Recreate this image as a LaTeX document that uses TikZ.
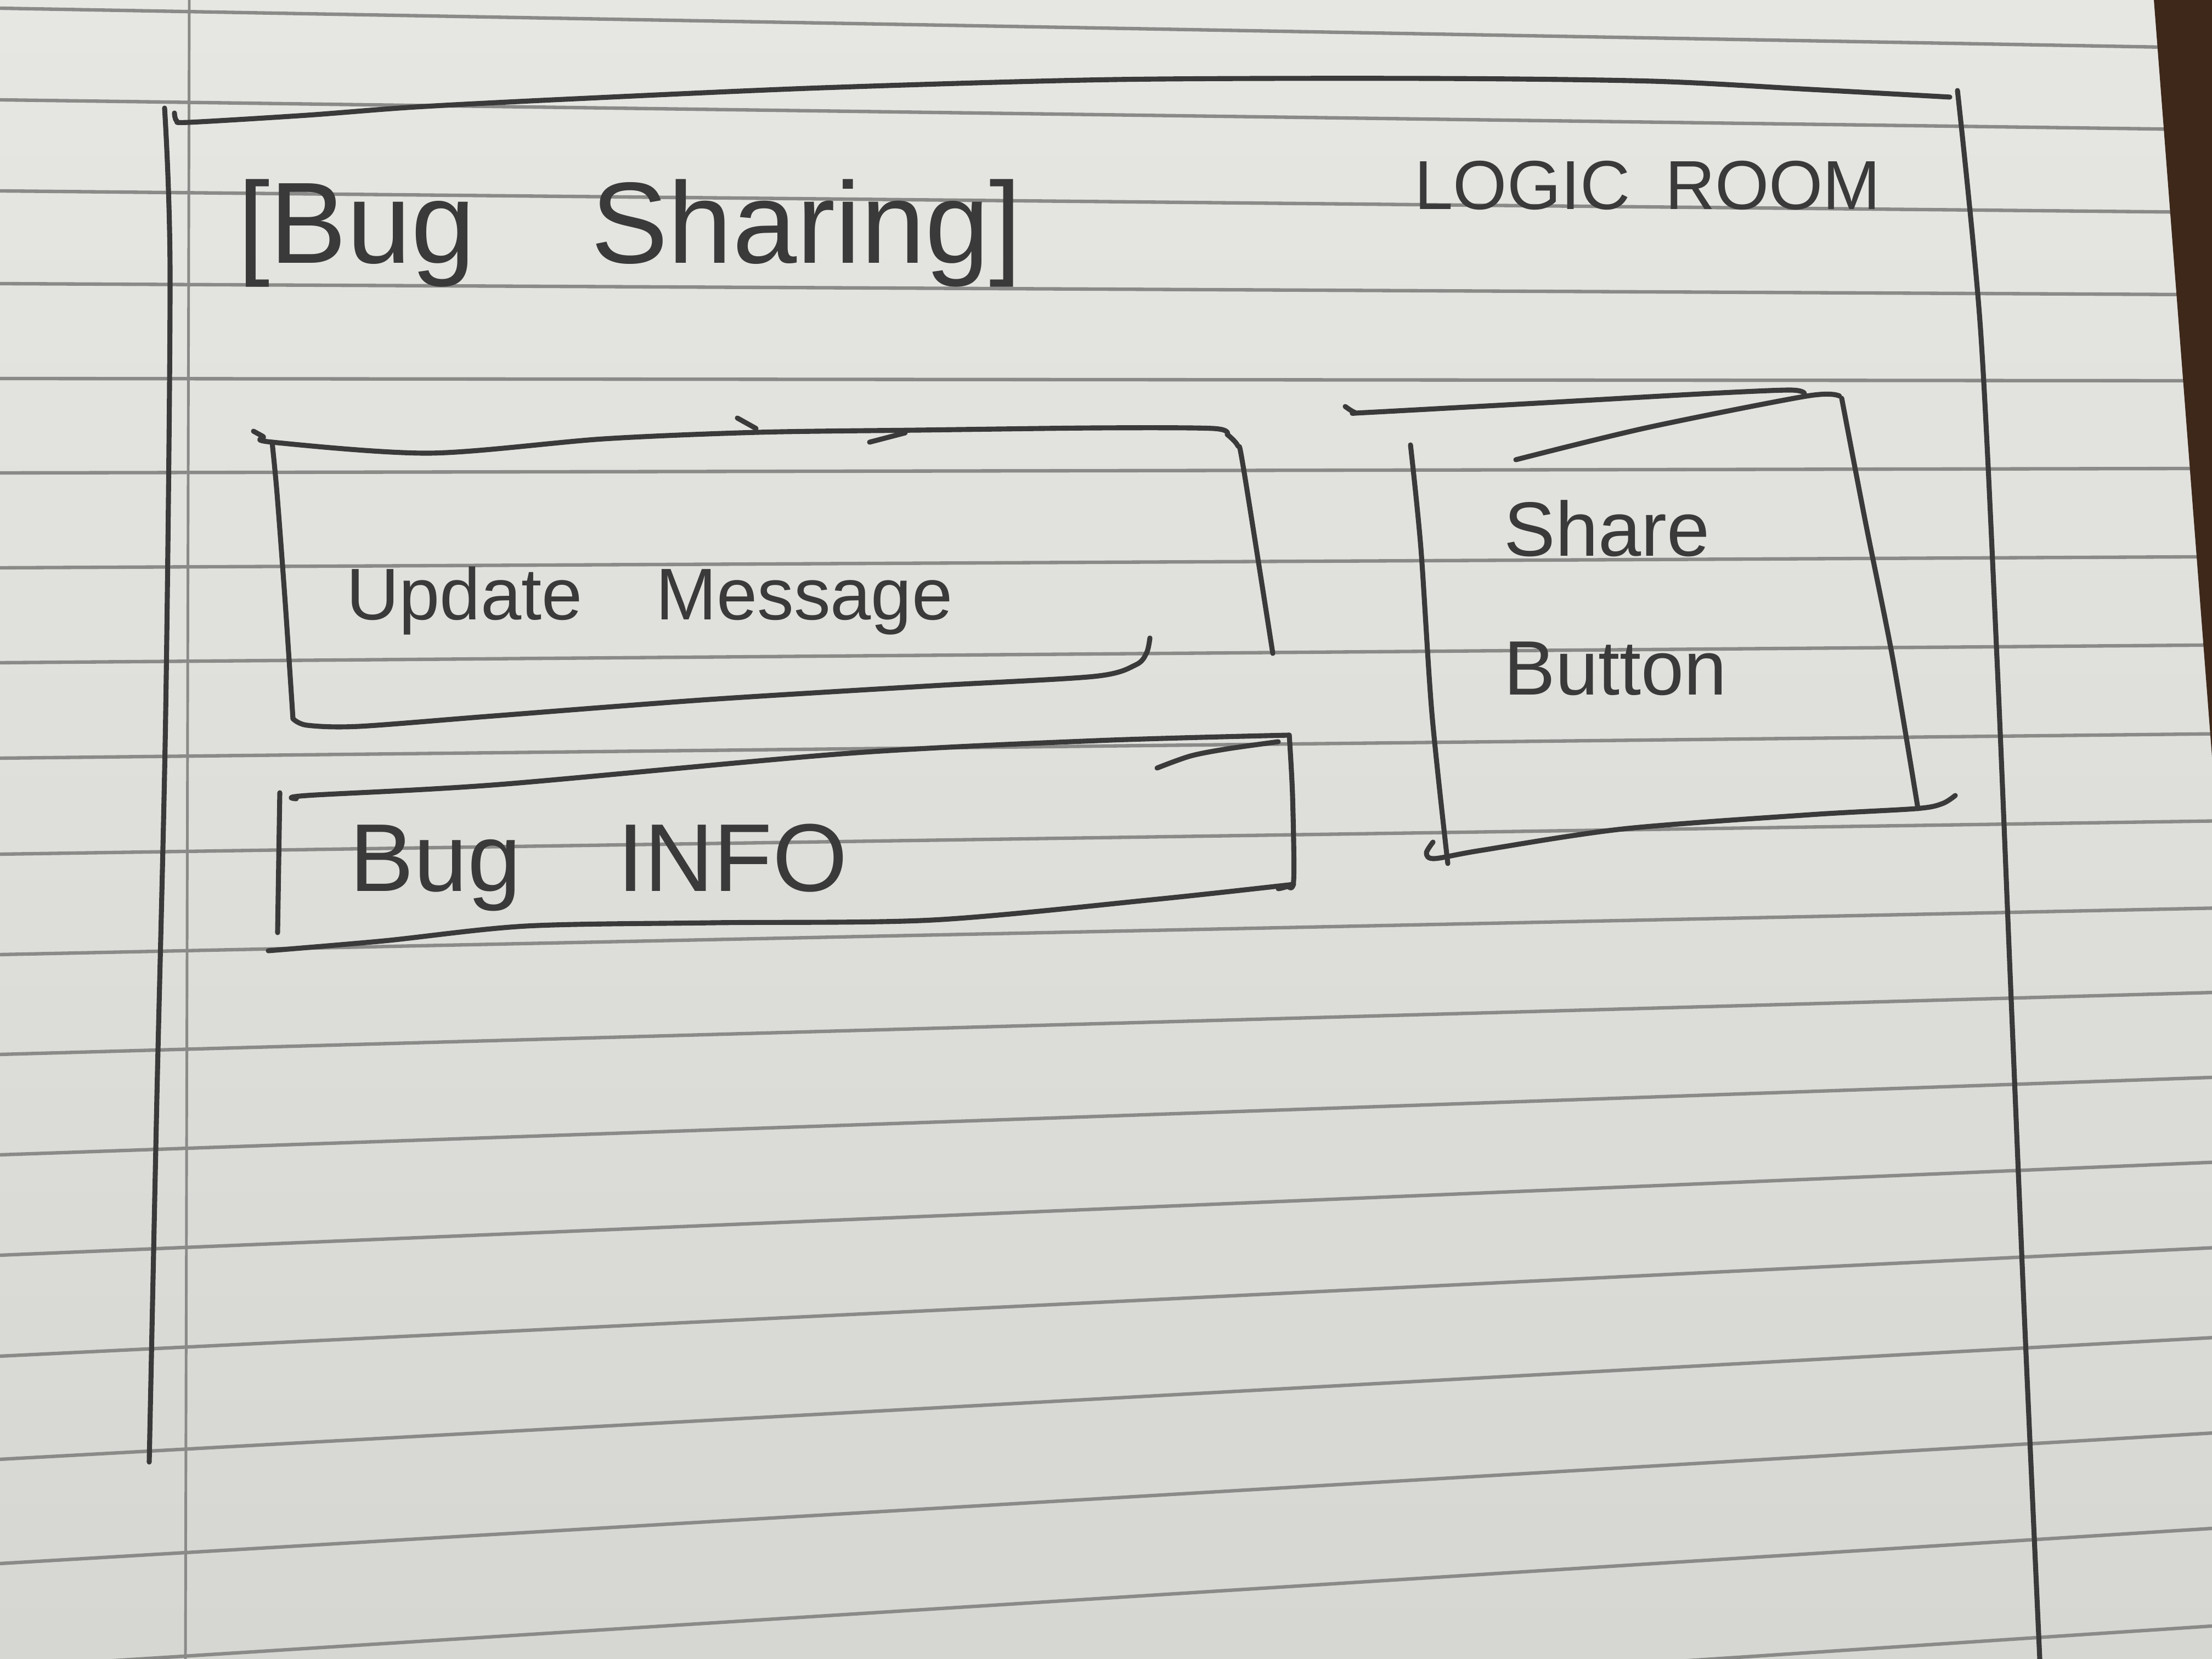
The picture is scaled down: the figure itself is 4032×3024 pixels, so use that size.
\documentclass[tikz,border=0pt]{standalone}
\usepackage{fontspec}
\setmainfont{Liberation Sans}
\definecolor{paper}{RGB}{230,230,226}
\definecolor{paperlo}{RGB}{214,214,210}
\definecolor{ruling}{RGB}{138,138,136}
\definecolor{pencil}{RGB}{58,58,58}
\definecolor{desk}{RGB}{62,40,26}
\begin{document}
\begin{tikzpicture}[x=0.005cm,y=-0.005cm,
    pencil/.style={draw=pencil,line width=1.3pt,line cap=round,line join=round},
    rule/.style={draw=ruling,line width=0.9pt},
    lbl/.style={text=pencil,inner sep=0pt,anchor=base west}]
\shade[top color=paper,bottom color=paperlo] (0,0) rectangle (4032,3024);
\useasboundingbox (0,0) rectangle (4032,3024);
\foreach \yl/\s in {15/0.018,182/0.0135,348/0.0097,517/0.005,690/0.001,862/-0.002,1035/-0.005,1208/-0.008,1382/-0.011,1557/-0.015,1740/-0.021,1922/-0.028,2105/-0.035,2288/-0.042,2472/-0.049,2660/-0.055,2850/-0.059,3040/-0.063,3230/-0.066}
    \draw[rule] (0,\yl) -- (4032,{\yl+4032*\s});
\draw[rule,line width=0.7pt] (345,0) -- (338,3024);
\fill[desk] (3926,0) -- (4032,0) -- (4032,1380) -- cycle;
% outer frame
\draw[pencil] plot[smooth] coordinates {(300,197) (310,500) (302,1300) (286,2000) (272,2665)};
\draw[pencil] plot[smooth] coordinates {(318,206) (322,220) (345,223) (560,210) (758,195) (1050,180) (1500,160) (2034,145) (2600,143) (3011,148) (3300,163) (3554,177)};
\draw[pencil] plot[smooth] coordinates {(3568,165) (3610,600) (3640,1200) (3665,1800) (3690,2400) (3718,3024)};
% update message box
\draw[pencil] plot[smooth] coordinates {(462,786) (480,796) (496,806) (783,826) (1100,800) (1382,788) (1675,784) (2000,780) (2211,781) (2237,792)};
\draw[pencil] (1344,762) -- (1378,781);
\draw[pencil] (1585,806) -- (1650,789);
\draw[pencil] plot[smooth] coordinates {(2237,792) (2256,812) (2266,850) (2320,1191)};
\draw[pencil] plot[smooth] coordinates {(496,806) (505,900) (520,1100) (534,1310)};
\draw[pencil] plot[smooth] coordinates {(534,1310) (560,1322) (655,1324) (900,1305) (1293,1275) (1700,1250) (1994,1233) (2070,1212) (2090,1190) (2096,1163)};
% bug info box
\draw[pencil] (510,1445) -- (506,1700);
\draw[pencil] plot[smooth] coordinates {(540,1456) (560,1450) (910,1430) (1548,1373) (2000,1350) (2350,1340)};
\draw[pencil] plot[smooth] coordinates {(2109,1400) (2170,1378) (2237,1365) (2330,1352)};
\draw[pencil] plot[smooth] coordinates {(2350,1340) (2356,1450) (2358,1605) (2345,1616) (2330,1620)};
\draw[pencil] plot[smooth] coordinates {(2358,1612) (2100,1640) (1700,1677) (1300,1682) (959,1688) (700,1715) (489,1733)};
% share button box
\draw[pencil] plot[smooth] coordinates {(2452,741) (2470,752) (2490,752) (2800,735) (3100,718) (3261,711) (3289,717)};
\draw[pencil] plot[smooth] coordinates {(2763,838) (3000,780) (3293,722) (3353,722)};
\draw[pencil] plot[smooth] coordinates {(3357,726) (3400,950) (3450,1200) (3496,1474)};
\draw[pencil] plot[smooth] coordinates {(2571,811) (2590,1000) (2610,1300) (2639,1574)};
\draw[pencil] plot[smooth] coordinates {(2612,1535) (2600,1555) (2615,1565) (2700,1550) (2958,1511) (3300,1485) (3492,1474) (3540,1465) (3564,1450)};
% labels
\node[lbl,font=\fontsize{30}{36}\selectfont] (title) at (432,480) {[Bug\quad Sharing]};
\node[lbl,font=\fontsize{18}{22}\selectfont] (room) at (2577,382) {LOGIC\enspace ROOM};
\node[lbl,font=\fontsize{19}{23}\selectfont] (update) at (630,1130) {Update\quad Message};
\node[lbl,font=\fontsize{25}{30}\selectfont] (info) at (636,1625) {Bug\quad INFO};
\node[lbl,anchor=west,align=left,font=\fontsize{20}{36}\selectfont] (share) at (2740,1090) {Share\\Button};
\end{tikzpicture}
\end{document}
